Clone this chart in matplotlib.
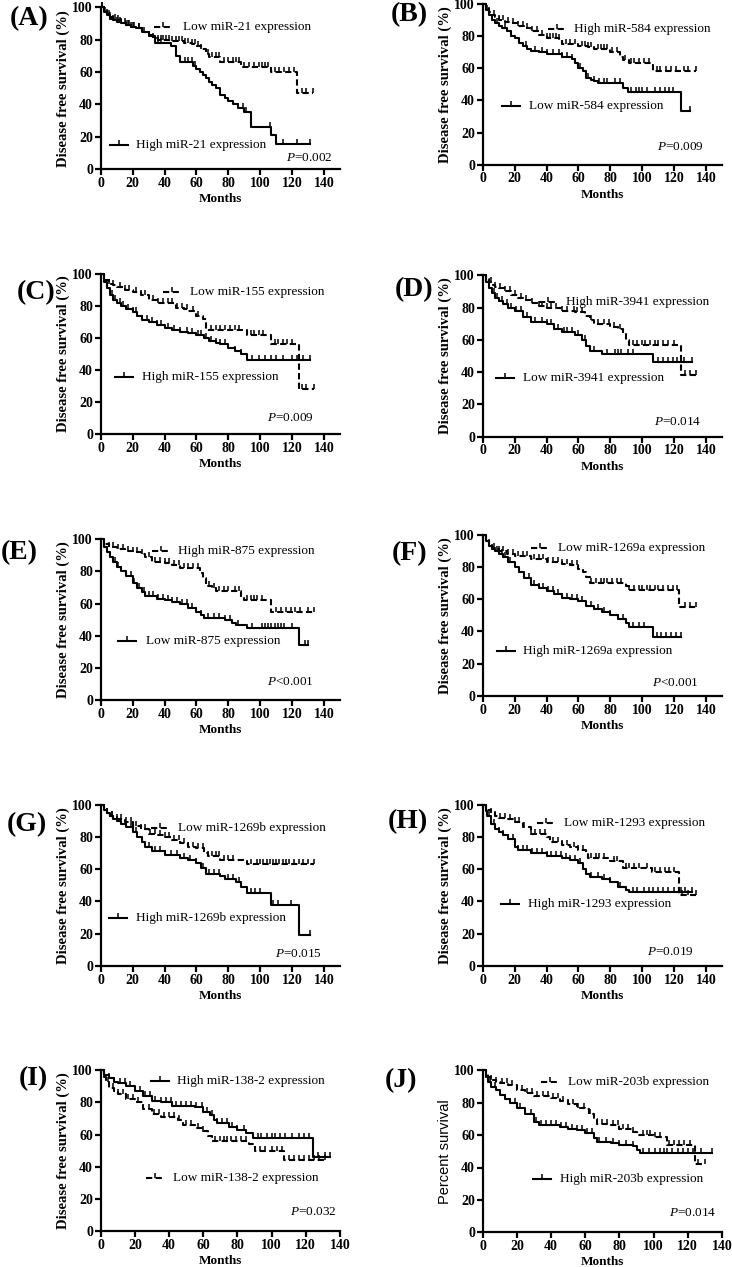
import numpy as np
import matplotlib
matplotlib.use("Agg")
import matplotlib.pyplot as plt

plt.rcParams['font.family'] = ['Liberation Serif', 'DejaVu Serif']
plt.rcParams['mathtext.fontset'] = 'custom'
plt.rcParams['mathtext.it'] = 'Liberation Serif:italic'
plt.rcParams['mathtext.rm'] = 'Liberation Serif'

# ---------------- data ----------------
A_low_t = [0,2,4,6,8,10,13,16,19,22,26,30,33,36,45,52,57,60,63,66,68,75,88,107,123]
A_low_s = [100,98,96,94,93,92,90,89,88,87,85,83,81,80,79,78,77,76,74,71,69,66,63,60,47]
A_low_c = [1,2,4,6,9,11,13,15,17,19,21,24,27,33,36,38,39,41,43,45,47,49,51,53,55,57,59,61,63,67,70,72,74,77,80,83,85,87,90,93,96,99,101,103,105,109,112,115,118,121,126,129,133]
A_high_t = [0,2,4,6,8,10,13,16,19,22,26,30,34,44,47,50,58,60,62,64,66,68,70,72,75,78,80,83,86,90,94,107,110]
A_high_s = [100,97,95,93,92,91,90,89,88,87,85,82,78,76,70,66,64,62,60,58,56,54,52,50,46,44,42,40,38,35,26,21,15.5]
A_high_c = [1,3,5,8,10,12,16,18,20,24,26,36,38,53,55,57,59,86,89,91,106,114,123,131]

B_high_t = [0,2,4,6,8,10,14,18,22,26,30,35,40,48,50,60,66,70,80,86,88,92,106,107]
B_high_s = [100,97,95,93,92,90,89,88,86,85,83,81,79,78,75,74,73,72,70,67,65,63,62,58]
B_high_c = [2,4,7,10,13,16,19,22,25,28,31,34,37,40,42,44,46,48,52,55,58,62,64,66,68,72,74,76,78,81,84,89,93,95,98,101,104,109,111,115,118,121,126,129,134]
B_low_t = [0,2,4,6,8,10,12,15,18,20,23,25,28,30,35,40,50,56,58,60,63,65,68,70,72,88,91,124]
B_low_s = [100,96,93,90,88,86,85,83,80,79,76,74,72,71,70,69,67,66,63,60,58,54,53,52,51,48,45,33.5]
B_low_c = [3,6,9,14,18,23,27,33,37,40,44,48,50,53,56,61,66,70,73,76,78,83,86,93,96,98,100,103,108,111,114,117,119,130]

C_low_t = [0,2,5,8,10,15,20,25,30,35,47,52,55,60,64,66,92,107,124]
C_low_s = [100,96,94,93,92,90,89,87,84,82,79,78,77,74,72,65,62,56,28]
C_low_c = [2,5,8,12,15,18,22,25,28,33,36,39,42,45,48,51,54,58,61,69,72,75,78,81,84,87,94,96,99,102,109,111,114,117,120,126,129,134]
C_high_t = [0,2,4,6,8,10,13,16,20,23,26,30,35,40,45,50,55,60,65,68,72,75,80,84,88,92]
C_high_s = [100,95,91,87,84,82,80,78,76,74,71,70,68,66,65,64,63,62,60,58,57,56,54,52,50,46.5]
C_high_c = [2,4,7,9,12,14,17,20,22,26,29,32,35,38,42,46,50,54,57,61,63,66,69,72,75,78,84,88,95,99,103,107,110,114,120,123,127,131]

D_high_t = [0,2,4,6,8,10,14,18,22,26,30,35,40,50,58,64,67,70,80,85,88,90,92,124]
D_high_s = [100,98,96,94,93,92,90,88,86,85,83,81,80,78,77,75,72,70,68,67,64,60,57,38]
D_high_c = [2,5,8,11,14,17,20,24,27,31,35,37,40,43,46,50,53,57,59,62,68,72,76,79,82,86,94,97,100,102,105,108,110,113,116,120,127,130,134]
D_low_t = [0,2,4,6,8,10,13,16,20,25,30,40,45,50,58,62,65,67,75,107]
D_low_s = [100,96,92,89,86,84,82,80,78,74,71,70,67,65,63,60,56,53,51,46]
D_low_c = [2,4,7,9,12,15,18,21,24,28,33,37,40,43,47,51,53,56,60,64,70,78,83,85,87,91,94,110,113,116,119,122,126,131]

E_high_t = [0,2,5,10,15,20,25,28,32,40,45,50,62,64,66,70,72,88,90,107]
E_high_s = [100,97,95,94,93,92,91,89,86,85,84,82,79,76,71,70,68,64,62,55]
E_high_c = [2,5,8,11,14,17,20,23,26,30,34,37,40,43,46,49,52,55,58,61,68,71,74,77,80,84,87,92,94,96,98,101,110,113,116,119,122,125,130,134]
E_low_t = [0,2,4,6,8,10,13,16,20,23,26,28,35,40,45,50,55,60,63,65,78,82,85,92,124]
E_low_s = [100,95,92,89,86,83,80,77,73,70,67,65,63,62,61,60,57,55,53,51,50,48,46.5,45,34]
E_low_c = [2,4,6,9,11,13,16,19,21,24,27,30,33,36,39,42,45,48,51,54,57,60,63,67,71,74,78,81,86,95,101,103,105,107,109,111,113,115,120,128,130]

F_low_t = [0,2,4,6,8,10,15,20,30,40,50,55,60,63,65,67,90,92,123]
F_low_s = [100,96,94,92,91,90,88,87,85,83,82,81,79,77,74,70,68,66,55]
F_low_c = [2,4,7,10,13,16,19,22,25,28,32,35,38,41,44,47,50,53,56,59,68,71,74,76,78,81,84,87,92,95,98,100,103,105,108,110,113,116,119,122,127,130,134]
F_high_t = [0,2,4,6,8,10,13,16,20,23,26,30,35,40,45,50,55,60,65,70,75,80,85,90,92,107]
F_high_s = [100,96,93,91,90,88,86,83,80,77,73,69,67,65,63,61,60,59,56,54,52,50,48,45,43,36.5]
F_high_c = [2,4,6,9,12,14,17,20,23,26,29,32,35,38,41,44,47,50,53,56,59,62,65,68,72,76,80,85,88,94,98,101,109,112,115,118,121,124]

G_low_t = [0,2,4,6,8,10,15,20,25,30,35,40,45,50,55,60,65,67,75,90,92]
G_low_s = [100,97,95,93,92,91,89,87,85,82,81,80,78,76,74,73,70,68,66,65,63]
G_low_c = [2,4,7,10,13,16,19,22,25,28,31,34,37,40,43,46,49,52,55,58,61,64,67,70,72,74,77,80,83,94,98,100,102,104,106,108,110,112,114,116,118,121,124,127,130,134]
G_high_t = [0,2,4,6,8,10,13,16,20,23,26,28,32,40,50,55,60,63,66,75,78,85,88,92,107,124]
G_high_s = [100,97,95,93,91,90,88,86,83,80,77,74,71,69,67,66,64,61,57,56,54,52,49,45,38,19]
G_high_c = [2,4,7,10,13,16,19,22,26,30,34,37,40,44,48,52,56,60,64,68,71,74,80,83,87,94,97,100,108,111,119,131]

H_low_t = [0,2,5,8,10,15,20,25,30,40,42,50,55,60,65,66,80,88,106,123]
H_low_s = [100,97,95,93,92,91,89,86,82,80,77,75,74,72,70,67,65,61,58,44]
H_low_c = [2,5,8,11,14,17,20,23,26,30,33,36,39,44,47,50,53,57,60,63,68,71,73,76,82,84,90,92,95,98,103,108,111,114,117,120,125,129,134]
H_high_t = [0,2,3,5,8,10,13,16,20,22,30,40,50,55,60,63,65,67,75,80,85,90,92]
H_high_s = [100,96,93,88,85,83,81,79,74,72,70,68,67,66,64,60,57,55,54,52,49,47,46]
H_high_c = [2,4,7,10,13,16,19,22,25,28,31,34,37,40,43,46,49,52,55,58,61,68,72,76,80,86,94,97,101,104,107,110,113,116,120,124,127,131]

I_high_t = [0,2,5,8,10,15,20,25,30,35,42,55,60,64,66,68,75,80,85,89,124]
I_high_s = [100,97,95,93,92,90,87,84,81,80,78,77,74,72,69,67,65,63,61,58,46]
I_high_c = [2,5,8,11,14,17,20,23,26,29,32,35,38,41,44,47,50,53,56,59,62,65,68,71,74,77,80,84,92,94,97,100,102,105,108,112,116,119,122,127,131,134]
I_low_t = [0,2,3,5,8,10,15,20,25,30,35,45,48,55,60,63,65,87,90,107]
I_low_s = [100,96,93,89,87,85,82,80,76,73,71,69,66,64,62,59,56,54,50,44]
I_low_c = [2,4,7,10,13,16,19,22,25,28,31,34,37,40,43,46,50,53,57,60,67,70,72,74,76,79,82,85,93,96,100,103,106,110,113,116,119,122,125,128,131]

J_low_t = [0,2,3,5,8,10,15,20,25,30,40,45,50,55,60,62,65,67,75,80,88,90,100,108,124]
J_low_s = [100,98,96,94,93,92,91,88,86,84,83,81,79,77,76,73,70,67,66,64,62,60,59,54,42]
J_low_c = [2,5,8,11,14,17,20,23,26,29,32,35,38,41,44,47,50,53,56,59,63,67,70,73,76,79,82,85,88,94,96,98,101,104,109,112,115,118,121,126,130]
J_high_t = [0,2,3,5,8,10,13,16,20,25,30,33,45,50,55,60,65,67,75,80,88,90,92]
J_high_s = [100,96,93,90,88,85,82,80,77,73,68,66,65,64,63,61,58,56,55,54,53,51,49]
J_high_c = [2,4,7,10,13,16,19,22,25,28,31,34,37,40,43,46,49,52,55,58,61,64,68,72,76,80,84,88,94,97,101,104,106,108,111,114,117,120,123,128,134]

panel_labels = ['(A)', '(B)', '(C)', '(D)', '(E)', '(F)', '(G)', '(H)', '(I)', '(J)']
dashed_labels = ['Low miR-21 expression', 'High miR-584 expression', 'Low miR-155 expression',
                 'High miR-3941 expression', 'High miR-875 expression', 'Low miR-1269a expression',
                 'Low miR-1269b expression', 'Low miR-1293 expression', 'Low miR-138-2 expression',
                 'Low miR-203b expression']
solid_labels = ['High miR-21 expression', 'Low miR-584 expression', 'High miR-155 expression',
                'Low miR-3941 expression', 'Low miR-875 expression', 'High miR-1269a expression',
                'High miR-1269b expression', 'High miR-1293 expression', 'High miR-138-2 expression',
                'High miR-203b expression']
p_texts = ['$P$=0.002', '$P$=0.009', '$P$=0.009', '$P$=0.014', '$P$<0.001', '$P$<0.001',
           '$P$=0.015', '$P$=0.019', '$P$=0.032', '$P$=0.014']
ylabels = ['Disease free survival (%)'] * 9 + ['Percent survival']
x_ticks = [0, 20, 40, 60, 80, 100, 120, 140]
y_ticks = [0, 20, 40, 60, 80, 100]

dashed_series = [(A_low_t, A_low_s, A_low_c), (B_high_t, B_high_s, B_high_c), (C_low_t, C_low_s, C_low_c),
                 (D_high_t, D_high_s, D_high_c), (E_high_t, E_high_s, E_high_c), (F_low_t, F_low_s, F_low_c),
                 (G_low_t, G_low_s, G_low_c), (H_low_t, H_low_s, H_low_c), (I_low_t, I_low_s, I_low_c),
                 (J_low_t, J_low_s, J_low_c)]
solid_series = [(A_high_t, A_high_s, A_high_c), (B_low_t, B_low_s, B_low_c), (C_high_t, C_high_s, C_high_c),
                (D_low_t, D_low_s, D_low_c), (E_low_t, E_low_s, E_low_c), (F_high_t, F_high_s, F_high_c),
                (G_high_t, G_high_s, G_high_c), (H_high_t, H_high_s, H_high_c), (I_high_t, I_high_s, I_high_c),
                (J_high_t, J_high_s, J_high_c)]

# ---------------- layout ----------------
W, H = 732, 1267
fig = plt.figure(figsize=(W / 100, H / 100), dpi=100)

# axes boxes in pixels: (left, top, bottom)
axes_px = [(100.7, 7.3, 169), (482.7, 4, 164.7),
           (100.7, 274, 434), (482.7, 275.3, 436.7),
           (100.7, 539.3, 700), (482.7, 534.7, 696),
           (100.7, 804.7, 966), (482.7, 804.7, 966),
           (100.7, 1070.3, 1231), (482.7, 1070.3, 1232.3)]
ax_w = 239.3
xmax = [150] * 8 + [140, 140]
label_px = [(10, 19), (391, 15), (16.7, 292.7), (394.3, 290), (1, 552.7),
            (392, 553.3), (6.7, 825), (387.7, 821.7), (18.3, 1078.7), (384.3, 1081)]
# legend entries: (line start x, y, text x) in axes fraction
leg_dashed = [(0.223, 0.877, 0.343), (0.272, 0.842, 0.383), (0.259, 0.885, 0.373), (0.237, 0.833, 0.348),
              (0.213, 0.929, 0.325), (0.202, 0.915, 0.316), (0.209, 0.853, 0.322), (0.226, 0.884, 0.341),
              (0.188, 0.332, 0.301), (0.244, 0.928, 0.356)]
leg_solid = [(0.039, 0.148, 0.148), (0.081, 0.365, 0.192), (0.060, 0.358, 0.171), (0.056, 0.362, 0.170),
             (0.074, 0.367, 0.188), (0.058, 0.281, 0.170), (0.036, 0.300, 0.148), (0.077, 0.382, 0.191),
             (0.209, 0.934, 0.320), (0.209, 0.327, 0.324)]
p_pos = [(0.969, 0.066), (0.922, 0.112), (0.889, 0.098), (0.912, 0.089), (0.889, 0.114),
         (0.905, 0.083), (0.923, 0.074), (0.884, 0.085), (0.986, 0.118), (0.975, 0.121)]

tick_marker = [(0, 0), (0, 1)]
LW = 1.5
DASH = (0, (3, 1.6))


def step_value(t, s, x):
    idx = np.searchsorted(np.asarray(t), np.asarray(x), side='right') - 1
    return np.asarray(s, dtype=float)[idx]


def draw_km(ax, t, s, c, ls):
    end = max(max(c), t[-1])
    tt = list(t) + [end]
    ss = list(s) + [s[-1]]
    ax.step(tt, ss, where='post', color='black', lw=LW, linestyle=ls, clip_on=False)
    cy = step_value(t, s, c)
    ax.plot(c, cy, linestyle='none', marker=tick_marker, markersize=7, markeredgewidth=1.1,
            color='black', clip_on=False)


def legend_entry(ax, x, y, xt, text, ls):
    ax.plot([x, x + 0.075], [y, y], transform=ax.transAxes, color='black', lw=LW, linestyle=ls, clip_on=False)
    ax.plot([x + 0.0375], [y], transform=ax.transAxes, linestyle='none', marker=tick_marker,
            markersize=7, markeredgewidth=1.1, color='black', clip_on=False)
    ax.text(xt, y, text, transform=ax.transAxes, ha='left', va='center', fontsize=9.5,
            family='Liberation Serif')


for i in range(10):
    lpx, tpx, bpx = axes_px[i]
    ax = fig.add_axes([lpx / W, 1 - bpx / H, ax_w / W, (bpx - tpx) / H])
    ax.set_xlim(0, xmax[i])
    ax.set_ylim(0, 100)
    for sp in ['top', 'right']:
        ax.spines[sp].set_visible(False)
    for sp in ['left', 'bottom']:
        ax.spines[sp].set_linewidth(1.6)
    ax.set_xticks(x_ticks)
    ax.set_yticks(y_ticks)
    ax.tick_params(direction='out', length=4, width=1.6, pad=1.5)
    for lab in ax.get_xticklabels() + ax.get_yticklabels():
        lab.set_fontweight('bold')
        lab.set_fontsize(10)
        lab.set_family('Liberation Serif')

    t, s, c = dashed_series[i]
    draw_km(ax, t, s, c, DASH)
    t, s, c = solid_series[i]
    draw_km(ax, t, s, c, '-')

    x, y, xt = leg_dashed[i]
    legend_entry(ax, x, y, xt, dashed_labels[i], DASH)
    x, y, xt = leg_solid[i]
    legend_entry(ax, x, y, xt, solid_labels[i], '-')

    px, py = p_pos[i]
    ax.text(px, py, p_texts[i], transform=ax.transAxes, ha='right', va='center', fontsize=9.5)

    if i == 9:
        ax.set_ylabel(ylabels[i], fontsize=10.5, family='Liberation Sans')
    else:
        ax.set_ylabel(ylabels[i], fontsize=10.5, fontweight='bold', family='Liberation Serif')
    ax.yaxis.set_label_coords(-0.157, 0.5)
    ax.set_xlabel('Months', fontsize=9.5, fontweight='bold', family='Liberation Serif')
    ax.xaxis.set_label_coords(0.5, -0.186)
    ax.xaxis.label.set_va('center')
    ax.yaxis.label.set_va('center')

    lx, ly = label_px[i]
    fig.text(lx / W, 1 - ly / H, panel_labels[i], ha='left', va='center', fontsize=20,
             fontweight='bold', family='Liberation Serif')

fig.savefig('out.png', dpi=100)
